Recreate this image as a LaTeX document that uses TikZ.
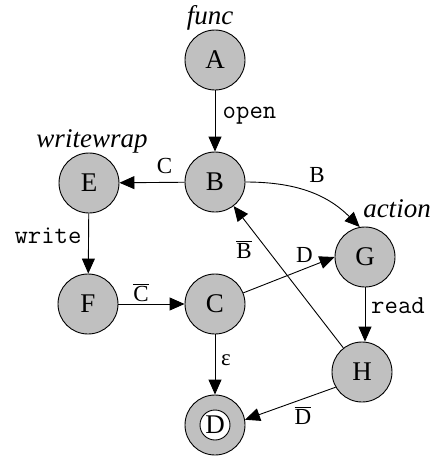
\documentclass[tikz,border=0pt]{standalone}
\usepackage{fontspec}
\setmainfont{Liberation Serif}
\usetikzlibrary{arrows.meta}
\definecolor{stgray}{RGB}{192,192,192}
\begin{document}
\begin{tikzpicture}[x=1pt,y=1pt,
  st/.style={circle,draw,fill=stgray,minimum size=60pt,inner sep=0pt,line width=0.9pt,font=\fontsize{27}{32}\selectfont},
  inner/.style={circle,draw,fill=white,minimum size=30pt,inner sep=0pt,line width=0.9pt,font=\fontsize{27}{32}\selectfont},
  el/.style={anchor=base,inner sep=0pt,font=\fontsize{23}{27}\selectfont},
  ml/.style={anchor=base,inner sep=0pt,font=\ttfamily\fontsize{26}{30}\selectfont},
  xl/.style={anchor=base,inner sep=0pt,font=\itshape\fontsize{27}{32}\selectfont},
  ar/.style={-{Triangle[length=15pt,width=13pt]},line width=0.9pt}]
\useasboundingbox (0,0) rectangle (433,-456);
% states
\node[st] (A) at (215,-60) {A};
\node[st] (B) at (215,-182) {B};
\node[st] (E) at (89,-183) {E};
\node[st] (F) at (88,-304) {F};
\node[st] (C) at (215,-304) {C};
\node[st] (G) at (365,-257) {G};
\node[st] (H) at (362,-372) {H};
\node[st] (D) at (215,-425) {};
\node[inner] (Di) at (D.center) {D};
% state labels
\node[xl] (lA) at (210,-24) {func};
\node[xl] (lE) at (92,-147) {writewrap};
\node[xl] (lG) at (397,-217) {action};
% edges
\draw[ar] (A) -- (B);
\draw[ar] (B) -- (E);
\draw[ar] (B.east) to[out=0,in=135] (G.100);
\draw[ar] (H) -- (B);
\draw[ar] (E) -- (F);
\draw[ar] (F) -- (C);
\draw[ar] (C) -- (G.west);
\draw[ar] (G) -- (G |- H.north);
\draw[ar] (C) -- (D);
\draw[ar] (H.210) -- (D.10);
% edge labels
\node[ml] (l1) at (249.5,-118) {open};
\node[el] (l2) at (164.5,-173) {C};
\node[el] (l3) at (317,-182.5) {B};
\node[ml] (l4) at (48,-243) {write};
\node[el] (l5) at (244,-258) {$\overline{\mbox{B}}$};
\node[el] (l6) at (304.5,-262) {D};
\node[el] (l7) at (141,-301) {$\overline{\mbox{C}}$};
\node[ml] (l8) at (398,-313) {read};
\node[el] (l9) at (226,-365) {ε};
\node[el] (l10) at (303,-424) {$\overline{\mbox{D}}$};
\end{tikzpicture}
\end{document}
